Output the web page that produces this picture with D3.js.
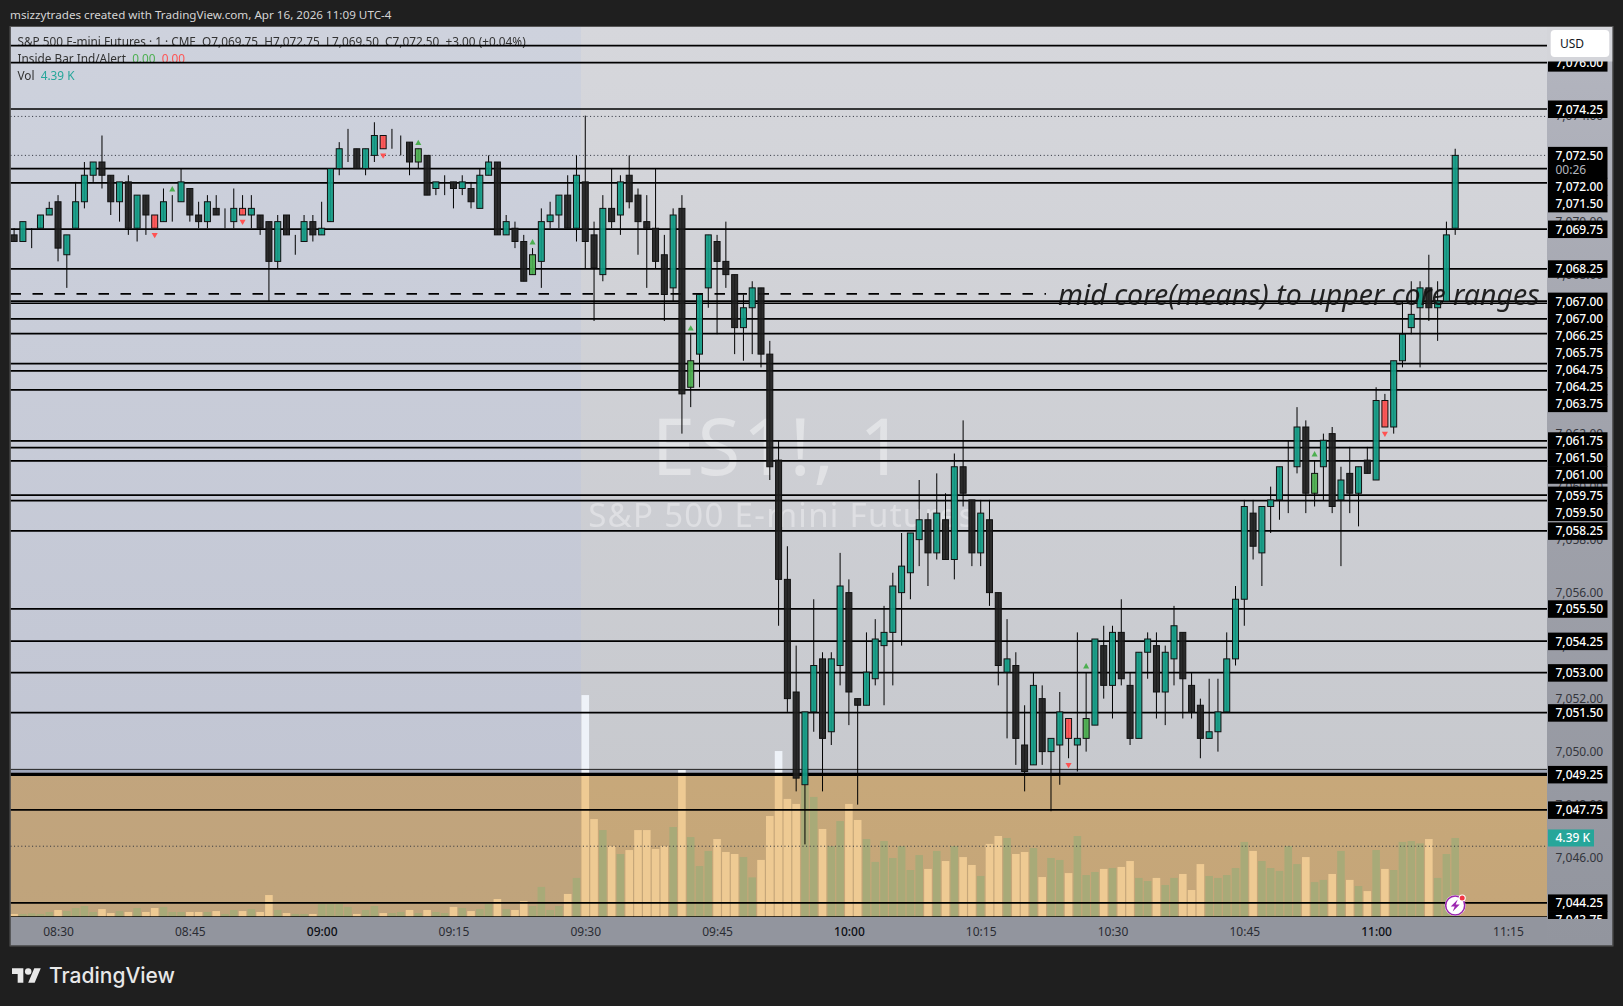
<!DOCTYPE html>
<html>
<head>
<meta charset="utf-8">
<title>ES1! 1 minute</title>
<script src="https://cdn.jsdelivr.net/npm/d3@7"></script>
<style>
    html, body { margin: 0; padding: 0; background: #1f1f1f; overflow: hidden; }
    svg { display: block; }
    text { font-family: "Noto Sans", sans-serif; }
</style>
</head>
<body>
<div id="chart"></div>
<script>
// candle values, as price minus 7000. First bar is 08:25, one bar a minute.
const basePrice = 7000;
const opens = [
    69.5, 69.25, 69.75, 69.75, 70.25, 70.75, 68.75, 69.75, 70.75, 71.75, 72.25, 71.75, 70.75, 71.5, 69.75,
    71, 70.25, 70, 70.75, 70.75, 71.25, 70.25, 70, 70.5, 70, 70, 70.5, 70.25, 70.25, 70,
    68.5, 70.25, 69.5, 69.25, 70, 69.5, 70, 72, 72.75, 72.75, 72, 72.5, 73.25, 73, 72.75,
    73, 72.25, 72.5, 71.25, 71.5, 71.5, 71.25, 71.25, 70.5, 71.75, 72.25, 69.5, 69.75, 69.25, 68,
    68.5, 70, 70.25, 71, 69.75, 71.5, 69.5, 68, 70.5, 70.25, 71.75, 71, 70, 69.75, 68.75,
    67.5, 70.5, 63.75, 65, 67.5, 69.25, 68.5, 68, 66, 66.75, 67.5, 65, 61, 56.5, 52.25,
    48.75, 51.5, 53.5, 50.75, 53.25, 56, 52, 51.75, 52.75, 54, 54.5, 56, 56.75, 58, 58.75,
    57.5, 58.75, 57.25, 60.75, 59.5, 57.5, 58.75, 56, 53, 53.25, 50.25, 49.5, 52, 50, 50.25,
    51.25, 50.25, 50.5, 51, 54, 52.5, 54.5, 52.5, 50.5, 53.75, 54, 52.25, 53.5, 54.5, 52.5,
    51.75, 50.5, 50.75, 51.5, 53.5, 55.75, 59, 57.5, 59.25, 59.5, 60.75, 60.75, 62.25, 59.75, 60.75,
    62, 59.5, 60.5, 59.75, 61, 60.25, 63.25, 62.25, 64.75, 66, 66.75, 67.5, 66.75, 67, 69.75
];
const highs = [
    69.75, 70, 69.75, 70.25, 70.75, 71, 69.5, 71.5, 72.25, 72.25, 73.25, 71.75, 71.5, 71.75, 71,
    71, 70.25, 71.25, 71, 72, 71.25, 70.75, 71, 71, 70.5, 71.25, 71, 71, 70.25, 70,
    70.25, 70.25, 69.5, 70.25, 70.25, 70.75, 72, 73, 73.5, 72.75, 72.75, 73.75, 73.25, 73.5, 73.25,
    73, 72.75, 72.5, 71.5, 71.75, 71.5, 71.75, 71.5, 72, 72.5, 72.25, 70.25, 70, 69.5, 69,
    70.5, 70.75, 71, 71.75, 72.5, 74, 70, 71, 72, 71.75, 72.5, 71.25, 71, 72, 69.5,
    70.5, 71, 65.75, 67.25, 69.5, 69.5, 70, 68, 67.25, 67.75, 67.5, 65.5, 61.75, 57.75, 54,
    51.5, 55.75, 53.75, 53.75, 57.5, 56.5, 52, 54.5, 55, 55.5, 56.75, 58.25, 58.25, 60.25, 59,
    60.5, 59.75, 61.25, 62.5, 59.5, 59.5, 59.5, 56, 55, 53.75, 51.75, 53, 52.5, 50.5, 52.25,
    51.25, 54.5, 53, 54.25, 54.75, 54.75, 55.75, 53, 53.75, 54.5, 54.5, 54, 55.5, 54.5, 53,
    52, 52.75, 52.75, 54.5, 56.25, 59.5, 59.5, 59.25, 60, 60.75, 61.75, 63, 62.5, 61, 62,
    62.25, 60.75, 61.5, 60.75, 61.5, 63.75, 63.5, 64.75, 67, 67.75, 67.75, 68.75, 67.75, 70, 72.75
];
const lows = [
    69.25, 69.25, 69, 69.75, 70.25, 68.5, 67.5, 69.75, 70.5, 71.5, 71.25, 70.25, 70, 69.5, 69.25,
    69.5, 69.75, 70, 70, 70.75, 70, 69.75, 69.75, 70.25, 69.75, 69.75, 70.25, 69.75, 69.5, 67,
    68.25, 69.5, 68.75, 69.25, 69.25, 69.5, 70, 71.75, 72.25, 72, 71.75, 72.25, 72.75, 72.75, 72.5,
    71.75, 72, 71, 71, 71, 70.5, 71, 70.5, 70.5, 71.75, 69.5, 69.5, 69, 67.75, 68,
    67.5, 69.75, 69.75, 69.75, 69.25, 68.25, 66.25, 67.75, 69.75, 69.5, 70.5, 68.75, 67.5, 68.25, 66.25,
    67, 62, 63, 63.75, 66.75, 65.75, 67.5, 65, 64.75, 65, 64.5, 60.25, 54.75, 51.5, 48.5,
    46.5, 50.75, 48.5, 50.25, 52.5, 51, 48, 51.75, 52.5, 51.75, 52.5, 54, 55.75, 57, 56.25,
    57.25, 57.25, 56.5, 59.25, 57, 57, 55.5, 52.5, 50.5, 49.5, 48.5, 49.5, 49.5, 47.75, 48.75,
    49.75, 49.25, 50, 51, 52, 51.25, 52.5, 50.25, 50.5, 52.75, 51.25, 51, 52.5, 51.25, 51.25,
    49.75, 50.5, 50, 51.5, 53.25, 54.75, 57.25, 56.25, 58.25, 58.75, 59, 60.5, 59, 59.25, 59.5,
    59, 57, 59, 58.5, 60.5, 60.25, 62.25, 62, 64.5, 65.75, 64.5, 66.25, 65.5, 67, 69.5
];
const closes = [
    69.25, 70, 69.75, 70.25, 70.5, 69, 69.5, 70.75, 71.75, 72.25, 71.75, 70.75, 71.5, 69.75, 71,
    70.25, 69.75, 70.75, 70.75, 71.5, 70.25, 70, 70.75, 70.25, 70, 70.5, 70.25, 70.5, 69.75, 68.5,
    70, 69.5, 69.5, 70, 69.5, 69.75, 72, 72.75, 72.75, 72, 72.75, 73.25, 72.75, 73, 72.75,
    72.25, 72.75, 71, 71.5, 71.5, 71.25, 71.5, 70.75, 71.75, 72.25, 69.5, 70, 69.25, 67.75, 68.75,
    70, 70.25, 71, 69.75, 71.75, 69.25, 68.25, 70.5, 70, 71.5, 70.75, 70, 69.75, 68.5, 67.25,
    70.25, 63.5, 64.75, 67.25, 69.5, 68.5, 68, 66, 66.75, 67.5, 65, 60.75, 56.5, 52, 49,
    51.5, 53.25, 50.5, 53.5, 56.25, 52.25, 51.75, 53, 54.25, 54.5, 56.25, 57, 58.25, 58.75, 57.5,
    59, 57.25, 60.75, 59.75, 57.5, 59, 56, 53.25, 53.5, 50.5, 49.25, 52.5, 50, 50.5, 51.5,
    50.5, 50.5, 51.25, 54.25, 52.5, 54.5, 52.75, 50.5, 53.75, 54.25, 52.25, 53.75, 54.75, 52.75, 51.5,
    50.5, 50.75, 51.5, 53.5, 55.75, 59.25, 57.75, 59.25, 59.5, 60.75, 60.75, 62.25, 59.75, 60.5, 61.75,
    59.25, 60.25, 59.75, 60.75, 60.5, 63.25, 62.25, 64.75, 65.75, 66.5, 67.5, 66.75, 67, 69.5, 72.5
];
// volume in thousands
const volumes = [
    0.17, 0.17, 0.2, 0.17, 0.28, 0.39, 0.33, 0.5, 0.61, 0.28, 0.44, 0.22, 0.33, 0.28, 0.5,
    0.28, 0.5, 0.56, 0.28, 0.28, 0.28, 0.28, 0.28, 0.33, 0.17, 0.39, 0.33, 0.44, 0.28, 1.22,
    0.39, 0.22, 0.17, 0.17, 0.17, 0.72, 0.72, 0.72, 0.56, 0.17, 0.39, 0.61, 0.22, 0.22, 0.28,
    0.39, 0.22, 0.39, 0.28, 0.22, 0.56, 0.5, 0.33, 0.44, 0.72, 1, 0.44, 0.39, 0.89, 0.61,
    1.67, 0.39, 0.61, 1.28, 2.17, 12.33, 5.44, 4.83, 3.94, 3.5, 3.72, 4.83, 4.83, 3.78, 3.94,
    5, 8.17, 4.44, 2.83, 3.67, 4.33, 3.61, 3.5, 3.33, 2.2, 3.17, 5.61, 9.22, 6.56, 6.28,
    7.28, 6.67, 4.89, 3.94, 5.33, 6.28, 5.39, 4.33, 3.06, 4.22, 3.28, 3.94, 2.61, 3.44, 2.67,
    3.67, 3.11, 3.94, 3.33, 2.89, 2.28, 4.06, 4.5, 4.39, 3.5, 3.61, 3.83, 2.22, 3.28, 3.17,
    2.44, 4.5, 2.33, 2.5, 2.67, 2.72, 2.78, 3.11, 2.17, 2, 2.17, 1.78, 2.17, 2.39, 1.5,
    2.94, 2.28, 2.17, 2.33, 2.72, 4.17, 3.67, 3.11, 2.72, 2.56, 3.94, 2.94, 3.33, 1.94, 2.06,
    2.39, 3.67, 2.06, 1.72, 1.44, 3.72, 2.67, 2.61, 4.17, 4.22, 4.09, 4.33, 2.17, 3.5, 4.39
];
// inside bar signals, by bar number
const insideUp = [18, 46, 59, 77, 122, 148];
const insideDown = [16, 26, 42, 120, 156];

// hand drawn levels and the tag each one shows on the price axis
const levels = [7076.64, 7076, 7074.25, 7072, 7071.46, 7069.72, 7068.22, 7067, 7066.92, 7066.33, 7065.77, 7064.64, 7064.37, 7063.65,
    7061.73, 7061.47, 7060.97, 7059.68, 7059.47, 7058.33, 7055.39, 7054.17, 7052.98, 7051.47, 7049.14, 7047.8, 7044.29, 7043.76];
const levelTags = [null, "7,076.00", "7,074.25", "7,072.00", "7,071.50", "7,069.75", "7,068.25", "7,067.00", "7,067.00", "7,066.25", "7,065.75", "7,064.75", "7,064.25", "7,063.75",
    "7,061.75", "7,061.50", "7,061.00", "7,059.75", "7,059.50", "7,058.25", "7,055.50", "7,054.25", "7,053.00", "7,051.50", "7,049.25", "7,047.75", "7,044.25", "7,043.75"];
const dottedLevels = [7073.97, 7072.5, 7046.43];
const thinLevel = 7049.33;
const dashedLevel = 7067.27;

const priceTicks = [7076, 7074, 7072, 7070, 7068, 7066, 7064, 7062, 7060, 7058, 7056, 7054, 7052, 7050, 7048, 7046, 7044];
const timeBars = [5, 20, 35, 50, 65, 80, 95, 110, 125, 140, 155, 170];
const timeLabels = ["08:30", "08:45", "09:00", "09:15", "09:30", "09:45", "10:00", "10:15", "10:30", "10:45", "11:00", "11:15"];
const boldTimes = ["09:00", "10:00", "11:00"];

const width = 1623, height = 1006;
const pane = { left: 10.5, right: 1547, top: 27, bottom: 917, axisRight: 1612.5, axisBottom: 945.5 };
const sessionX = 581;

const x = d3.scaleLinear().domain([0, 164]).range([14.1, 1455.2]);
const y = d3.scaleLinear().domain([7074.25, 7044.25]).range([109, 904]);
const vol = d3.scaleLinear().domain([0, 1]).range([917, 899]);

const svg = d3.select("#chart").append("svg").attr("width", width).attr("height", height);
const defs = svg.append("defs");

function verticalGradient(id, stops) {
    const g = defs.append("linearGradient").attr("id", id)
        .attr("gradientUnits", "userSpaceOnUse")
        .attr("x1", 0).attr("x2", 0).attr("y1", pane.top).attr("y2", pane.axisBottom);
    stops.forEach(s => g.append("stop").attr("offset", s[0]).attr("stop-color", s[1]));
}
verticalGradient("bgRight", [[0, "#d6d7dc"], [1, "#c4c6cb"]]);
verticalGradient("bgLeft", [[0, "#ced2dd"], [1, "#bfc3d1"]]);
verticalGradient("bgAxis", [[0, "#b4b6c0"], [0.4, "#a2a4ad"], [1, "#92959e"]]);

defs.append("clipPath").attr("id", "paneClip").append("rect")
    .attr("x", pane.left).attr("y", pane.top).attr("width", pane.right - pane.left).attr("height", pane.bottom - pane.top);
defs.append("clipPath").attr("id", "axisClip").append("rect")
    .attr("x", pane.right).attr("y", pane.top).attr("width", pane.axisRight - pane.right).attr("height", pane.bottom - pane.top + 2);

// header
svg.append("text").attr("x", 10).attr("y", 19)
    .attr("font-size", 11.66).attr("fill", "#d4d4d4")
    .text("msizzytrades created with TradingView.com, Apr 16, 2026 11:09 UTC-4");

// axis backgrounds
svg.append("rect").attr("x", pane.right).attr("y", pane.top).attr("width", pane.axisRight - pane.right).attr("height", pane.axisBottom - pane.top)
    .attr("fill", "url(#bgAxis)");
svg.append("rect").attr("x", pane.left).attr("y", pane.bottom).attr("width", pane.right - pane.left).attr("height", pane.axisBottom - pane.bottom)
    .attr("fill", "#92959e");

// everything in the pane shares one group so the band can multiply over it
const chart = svg.append("g").attr("clip-path", "url(#paneClip)");
chart.append("rect").attr("x", pane.left).attr("y", pane.top).attr("width", pane.right - pane.left).attr("height", pane.bottom - pane.top)
    .attr("fill", "url(#bgRight)");
chart.append("rect").attr("x", pane.left).attr("y", pane.top).attr("width", sessionX - pane.left).attr("height", pane.bottom - pane.top)
    .attr("fill", "url(#bgLeft)");

// watermark
chart.append("text").attr("x", 779).attr("y", 475).attr("text-anchor", "middle")
    .attr("font-size", 78).attr("letter-spacing", 2.4).attr("fill", "#fff").attr("fill-opacity", 0.4).text("ES1!, 1");
chart.append("text").attr("x", 782).attr("y", 527).attr("text-anchor", "middle")
    .attr("font-size", 33).attr("letter-spacing", 1.3).attr("fill", "#fff").attr("fill-opacity", 0.36).text("S&P 500 E-mini Futures");

// legend, the level lines run over it
const legend = chart.append("g").attr("font-size", 11.8).attr("fill", "#333");
legend.append("text").attr("x", 17.5).attr("y", 45.5)
    .text("S&P 500 E-mini Futures · 1 · CME  O7,069.75  H7,072.75  L7,069.50  C7,072.50  +3.00 (+0.04%)")
    .style("white-space", "pre");
const insideText = legend.append("text").attr("x", 17.5).attr("y", 63).style("white-space", "pre");
insideText.append("tspan").text("Inside Bar Ind/Alert  ");
insideText.append("tspan").attr("fill", "#4caf50").text("0.00  ");
insideText.append("tspan").attr("fill", "#ff5252").text("0.00");
const volText = legend.append("text").attr("x", 17.5).attr("y", 80).style("white-space", "pre");
volText.append("tspan").text("Vol  ");
volText.append("tspan").attr("fill", "#26a69a").text("4.39 K");

// strip above the band
chart.append("rect").attr("x", pane.left).attr("width", pane.right - pane.left)
    .attr("y", y(thinLevel)).attr("height", y(levels[24]) - y(thinLevel))
    .attr("fill", "#5f6a8c").attr("fill-opacity", 0.35);

// volume
const barIndex = d3.range(volumes.length);
chart.append("g").selectAll("rect").data(barIndex).join("rect")
    .attr("x", i => x(i) - 3.8)
    .attr("width", 7.6)
    .attr("y", i => vol(volumes[i]))
    .attr("height", i => vol(0) - vol(volumes[i]))
    .attr("fill", i => closes[i] >= opens[i] ? "#a8ccca" : "#eef2f8");

// support band, multiplied so bars show through it
chart.append("rect").attr("x", pane.left).attr("width", pane.right - pane.left)
    .attr("y", y(levels[24])).attr("height", pane.bottom - y(levels[24]))
    .attr("fill", "#ffd597").style("mix-blend-mode", "multiply");

// level lines
chart.append("g").selectAll("line").data(levels).join("line")
    .attr("x1", pane.left).attr("x2", pane.right)
    .attr("y1", d => y(d)).attr("y2", d => y(d))
    .attr("stroke", "#000").attr("stroke-width", d => d === levels[24] ? 3.3 : 1.7);
chart.append("line").attr("x1", pane.left).attr("x2", pane.right)
    .attr("y1", y(thinLevel)).attr("y2", y(thinLevel))
    .attr("stroke", "#222").attr("stroke-width", 1);
chart.append("g").selectAll("line").data(dottedLevels).join("line")
    .attr("x1", pane.left).attr("x2", pane.right)
    .attr("y1", d => y(d)).attr("y2", d => y(d))
    .attr("stroke", "#2a2e39").attr("stroke-width", 1).attr("stroke-dasharray", "1 2.6");
chart.append("line").attr("x1", pane.left).attr("x2", 1046)
    .attr("y1", y(dashedLevel)).attr("y2", y(dashedLevel))
    .attr("stroke", "#000").attr("stroke-width", 1.7).attr("stroke-dasharray", "10.5 11.5");

// candles
function bodyColor(i) {
    if (insideUp.includes(i) && i !== 18) return "#4caf50";
    if (insideDown.includes(i)) return "#ff5252";
    return closes[i] >= opens[i] ? "#129c85" : "#1e1e1e";
}
chart.append("g").selectAll("line").data(barIndex).join("line")
    .attr("x1", i => x(i)).attr("x2", i => x(i))
    .attr("y1", i => y(basePrice + highs[i])).attr("y2", i => y(basePrice + lows[i]))
    .attr("stroke", "#000").attr("stroke-width", 1);
chart.append("g").selectAll("rect").data(barIndex).join("rect")
    .attr("x", i => x(i) - 3)
    .attr("width", 6)
    .attr("y", i => y(basePrice + Math.max(opens[i], closes[i])))
    .attr("height", i => Math.abs(y(basePrice + opens[i]) - y(basePrice + closes[i])))
    .attr("fill", bodyColor).attr("fill-opacity", 0.93)
    .attr("stroke", "#111").attr("stroke-width", 1);

// inside bar markers
const triangle = d3.symbol().type(d3.symbolTriangle).size(16);
chart.append("g").selectAll("path").data(insideUp).join("path")
    .attr("d", triangle)
    .attr("transform", i => `translate(${x(i)},${y(basePrice + highs[i]) - 5.5})`)
    .attr("fill", "#4caf50");
chart.append("g").selectAll("path").data(insideDown).join("path")
    .attr("d", triangle)
    .attr("transform", i => `translate(${x(i)},${y(basePrice + lows[i]) + 6.5}) rotate(180)`)
    .attr("fill", "#ff5252");

// the note
chart.append("text").attr("x", 1058).attr("y", y(7067) + 4)
    .attr("font-size", 28.5).attr("font-style", "italic").attr("fill", "#111").attr("fill-opacity", 0.92)
    .text("mid core(means) to upper core ranges");

// price axis
const priceAxis = svg.append("g").attr("clip-path", "url(#axisClip)");
priceAxis.append("g").attr("transform", `translate(${pane.right},0)`)
    .call(d3.axisRight(y).tickValues(priceTicks).tickSize(0).tickPadding(8.5).tickFormat(d3.format(",.2f")))
    .call(g => g.select(".domain").remove())
    .call(g => g.selectAll("text").attr("font-size", 12).attr("font-family", "Noto Sans").attr("fill", "#33353c"));

// tags stack downward when they would overlap
const lastPrice = basePrice + closes[closes.length - 1];
const tags = levels.map((d, i) => ({ price: d, text: levelTags[i], height: 17 })).filter(d => d.text);
tags.push({ price: lastPrice, text: "7,072.50", sub: "00:26", height: 31 });
tags.sort((a, b) => b.price - a.price);
let nextFree = -Infinity;
tags.forEach(d => {
    d.cy = Math.max(y(d.price), nextFree);
    nextFree = d.cy + (d.sub ? 31 : 17);
});
const tagGroup = priceAxis.append("g").selectAll("g").data(tags).join("g")
    .attr("transform", d => `translate(1548,${d.cy})`);
tagGroup.append("rect").attr("x", 0).attr("y", -8.5).attr("width", 59.5)
    .attr("height", d => d.height + 0.5).attr("fill", "#000");
tagGroup.append("text").attr("x", 7.5).attr("y", 4.5)
    .attr("font-size", 12).attr("font-weight", 500).attr("fill", "#fff").text(d => d.text);
tagGroup.filter(d => d.sub).append("text").attr("x", 7.5).attr("y", 18.5)
    .attr("font-size", 12).attr("fill", "#b2b5be").text(d => d.sub);

// volume tag
const volTag = svg.append("g").attr("transform", `translate(1548,${vol(volumes[164])})`);
volTag.append("rect").attr("y", -8.5).attr("width", 46).attr("height", 17).attr("fill", "#26a69a");
volTag.append("text").attr("x", 7.5).attr("y", 4.5).attr("font-size", 12).attr("font-weight", 500).attr("fill", "#fff").text("4.39 K");

// currency button sits on a light patch that cuts the top tag
svg.append("rect").attr("x", pane.right).attr("y", pane.top).attr("width", pane.axisRight - pane.right).attr("height", 34.5).attr("fill", "#d4d5da");
svg.append("rect").attr("x", 1550.7).attr("y", 30).attr("width", 58.6).attr("height", 27).attr("rx", 4).attr("fill", "#fff");
svg.append("text").attr("x", 1560).attr("y", 48).attr("font-size", 12).attr("fill", "#131722").text("USD");

// time axis
const timeAxis = svg.append("g").attr("transform", `translate(0,${pane.bottom})`)
    .call(d3.axisBottom(x).tickValues(timeBars).tickSize(0).tickPadding(10).tickFormat((d, i) => timeLabels[i]));
timeAxis.select(".domain").remove();
timeAxis.selectAll("text").attr("font-size", 12).attr("font-family", "Noto Sans")
    .attr("fill", (d, i) => boldTimes.includes(timeLabels[i]) ? "#0c0e14" : "#2a2c33")
    .attr("font-weight", (d, i) => boldTimes.includes(timeLabels[i]) ? 500 : 400);

// pane frame
svg.append("rect").attr("x", pane.left - 0.5).attr("y", pane.top - 0.5)
    .attr("width", pane.axisRight - pane.left + 1).attr("height", pane.axisBottom - pane.top + 1)
    .attr("fill", "none").attr("stroke", "#565656").attr("stroke-width", 1);

// alert icon on the last bar
const icon = svg.append("g").attr("transform", `translate(${x(164)},905.5)`);
icon.append("circle").attr("r", 10.5).attr("fill", "#fff");
icon.append("circle").attr("r", 9.5).attr("fill", "#fff").attr("stroke", "#9c27b0").attr("stroke-width", 1.6);
icon.append("path").attr("d", "M2.5,-6 L-4.5,1 L-0.5,1 L-2.5,6 L4.5,-1 L0.5,-1 Z").attr("fill", "#9c27b0");
icon.append("circle").attr("cx", 7).attr("cy", -7.5).attr("r", 3.6).attr("fill", "#fff");
icon.append("circle").attr("cx", 7).attr("cy", -7.5).attr("r", 2.5).attr("fill", "#f23645");

// logo
const logo = svg.append("g").attr("transform", "translate(12,965) scale(0.81)").attr("fill", "#e8e8e8");
logo.append("path").attr("d", "M14 22H7V11H0V4h14v18zM28 22h-8l7.5-18h8L28 22z");
logo.append("circle").attr("cx", 20).attr("cy", 8).attr("r", 4);
svg.append("text").attr("x", 49).attr("y", 983).attr("font-size", 21).attr("font-weight", 500)
    .style("font-family", "Inter").attr("fill", "#e8e8e8").text("TradingView");
</script>
</body>
</html>
